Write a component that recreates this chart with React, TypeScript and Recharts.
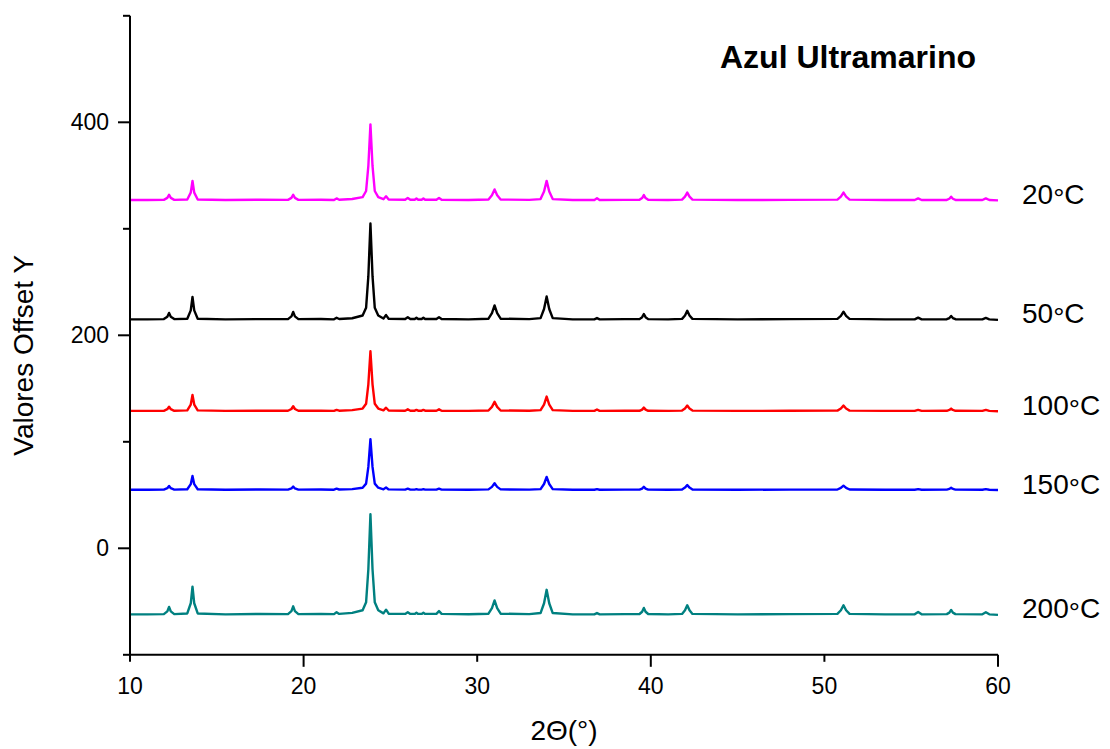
import React from "react";
import {
  LineChart,
  Line,
  XAxis,
  YAxis,
  ReferenceDot,
  Label,
} from "recharts";

// 2θ positions (degrees) shared by all diffractograms
const twoTheta = [
  10.0, 11.0,
  11.95, 12.15, 12.25, 12.35, 12.55,
  13.3, 13.5, 13.6, 13.7, 13.9,
  15.5, 17.5,
  19.1, 19.3, 19.4, 19.5, 19.7,
  21.0, 21.75, 21.9, 22.05, 22.8,
  23.4, 23.6, 23.73, 23.85, 23.97, 24.1, 24.3,
  24.6, 24.75, 24.9, 25.85, 26.0, 26.15,
  26.4, 26.5, 26.6, 26.8, 26.9, 27.0,
  27.65, 27.8, 27.95, 29.5,
  30.65, 30.85, 31.0, 31.15, 31.35, 33.0,
  33.65, 33.85, 34.0, 34.15, 34.35, 35.5,
  36.75, 36.9, 37.05, 38.5,
  39.35, 39.5, 39.6, 39.7, 39.85, 41.0,
  41.8, 41.97, 42.1, 42.23, 42.4, 45.0, 48.0,
  50.75, 50.95, 51.1, 51.25, 51.45, 53.5,
  55.2, 55.4, 55.6,
  57.05, 57.2, 57.3, 57.4, 57.55,
  59.1, 59.3, 59.5, 60.0,
];

// Intensity above each pattern's own baseline
const int20 = [
  0, 0,
  0.2, 2, 5, 2, 0.2,
  0.5, 7, 18, 7, 0.5,
  0, 0.3,
  0.2, 2, 5, 2, 0.2,
  0.3, 0, 1.5, 0.3, 1,
  2.8, 8.5, 32, 71, 32, 8.5, 2.8,
  0.8, 3.5, 0.5, 0.3, 2, 0.3,
  0.3, 1.5, 0.3, 0.3, 1.5, 0.3,
  0.3, 2, 0.3, 0,
  0.5, 4.5, 10, 4.5, 0.5, 0.2,
  0.9, 8, 18, 8, 0.9, 0,
  0, 1.6, 0, 0.2,
  0.2, 1.9, 4.7, 1.9, 0.2, 0,
  0.4, 3.2, 7, 3.2, 0.4, 0, 0.2,
  0.4, 3.2, 7, 3.2, 0.4, 0,
  0, 1.6, 0,
  0.1, 1.2, 3.1, 1.2, 0.1,
  0, 1.6, 0, -0.3,
];

const int50 = [
  0, 0,
  0.2, 2.4, 6, 2.4, 0.2,
  0.6, 8.4, 21, 8.4, 0.6,
  0, 0.2,
  0.2, 2.8, 7, 2.8, 0.2,
  0.3, 0, 1.5, 0.3, 1,
  3.6, 10.8, 40.5, 90, 40.5, 10.8, 3.6,
  0.8, 4, 0.5, 0.3, 2, 0.3,
  0.3, 1.5, 0.3, 0.3, 1.5, 0.3,
  0.3, 2, 0.3, 0,
  0.6, 5.8, 13, 5.8, 0.6, 0.2,
  1.1, 9.7, 21.5, 9.7, 1.1, 0,
  0, 1.3, 0, 0.2,
  0.2, 2, 5, 2, 0.2, 0,
  0.4, 3.6, 8, 3.6, 0.4, 0, 0.2,
  0.4, 3.2, 7.2, 3.2, 0.4, 0,
  0, 1.6, 0,
  0.1, 1.2, 3.1, 1.2, 0.1,
  0, 1.3, 0, -0.5,
];

const int100 = [
  0, 0,
  0.1, 1.6, 4, 1.6, 0.1,
  0.5, 6, 15, 6, 0.5,
  0, 0.2,
  0.1, 1.8, 4.4, 1.8, 0.1,
  0.2, 0, 1, 0.2, 0.7,
  2.2, 6.7, 25, 56, 25, 6.7, 2.2,
  0.6, 3, 0.4, 0.2, 1.5, 0.2,
  0.2, 1, 0.2, 0.2, 1, 0.2,
  0.2, 1.5, 0.2, 0,
  0.4, 3.8, 8.5, 3.8, 0.4, 0.1,
  0.7, 6, 13.5, 6, 0.7, 0,
  0, 1.3, 0, 0.1,
  0.1, 1.2, 3.1, 1.2, 0.1, 0,
  0.3, 2.2, 5, 2.2, 0.3, 0, 0.1,
  0.3, 2.2, 5, 2.2, 0.3, 0,
  0, 1, 0,
  0.1, 0.9, 2.2, 0.9, 0.1,
  0, 1, 0, -0.3,
];

const int150 = [
  0, 0,
  0.1, 1.4, 3.5, 1.4, 0.1,
  0.4, 5.2, 13, 5.2, 0.4,
  0, 0.2,
  0.1, 1.2, 3, 1.2, 0.1,
  0.2, 0, 1, 0.2, 0.6,
  1.9, 5.7, 21.4, 47.5, 21.4, 5.7, 1.9,
  0.4, 2, 0.3, 0.1, 1, 0.1,
  0.1, 0.5, 0.1, 0.1, 0.5, 0.1,
  0.1, 1, 0.1, 0,
  0.3, 2.7, 6, 2.7, 0.3, 0.1,
  0.6, 5.4, 12, 5.4, 0.6, 0,
  0, 0.6, 0, 0.1,
  0.1, 1.1, 2.8, 1.1, 0.1, 0,
  0.2, 2, 4.4, 2, 0.2, 0, 0.1,
  0.2, 1.7, 3.8, 1.7, 0.2, 0,
  0, 0.6, 0,
  0.1, 0.8, 1.9, 0.8, 0.1,
  0, 0.6, 0, -0.2,
];

const int200 = [
  0, 0,
  0.2, 2.8, 7, 2.8, 0.2,
  0.8, 10.4, 26, 10.4, 0.8,
  0, 0.3,
  0.2, 3, 7.5, 3, 0.2,
  0.4, 0.2, 2, 0.4, 1.4,
  3.8, 11.3, 42.3, 94, 42.3, 11.3, 3.8,
  0.9, 4.4, 0.6, 0.4, 2, 0.4,
  0.4, 1.5, 0.4, 0.4, 1.5, 0.4,
  0.4, 3, 0.4, 0.1,
  0.6, 5.8, 13, 5.8, 0.6, 0.2,
  1.2, 10.4, 23, 10.4, 1.2, 0,
  0, 1.3, 0, 0.2,
  0.3, 2.4, 6, 2.4, 0.3, 0,
  0.4, 3.8, 8.5, 3.8, 0.4, 0, 0.2,
  0.4, 3.8, 8.5, 3.8, 0.4, 0,
  0, 2.2, 0,
  0.2, 1.6, 4.1, 1.6, 0.2,
  0, 1.9, 0, -0.5,
];

// Y offsets applied to each pattern
const offsets = [327, 215, 129, 55, -62];
const seriesTemps = ["20", "50", "100", "150", "200"];
const seriesColors = ["#FF00FF", "#000000", "#FF0000", "#0000FF", "#008080"];
const seriesKeys = ["s20", "s50", "s100", "s150", "s200"];
const intensities = [int20, int50, int100, int150, int200];

const xTicks = [10, 20, 30, 40, 50, 60];
const xMajor = [20, 40, 60];
const yTicks = [-100, 0, 100, 200, 300, 400, 500];
const yLabelled = [0, 200, 400];

const title = "Azul Ultramarino";
const xTitle = "2Θ(°)";
const yTitle = "Valores Offset Y";

const data = twoTheta.map((t, i) => {
  const row: Record<string, number> = { t };
  seriesKeys.forEach((k, s) => {
    row[k] = offsets[s] + intensities[s][i];
  });
  return row;
});

const FONT = "'Liberation Sans', Arial, sans-serif";

const YTick = (props: any) => {
  const { x, y, payload } = props;
  const labelled = yLabelled.includes(payload.value);
  return (
    <g>
      <line x1={x - (labelled ? 12 : 7)} x2={x} y1={y} y2={y} stroke="#000" strokeWidth={2} />
      {labelled && (
        <text x={x - 21} y={y + 8} textAnchor="end" fontSize={23} fontFamily={FONT} fill="#000">
          {payload.value}
        </text>
      )}
    </g>
  );
};

const XTick = (props: any) => {
  const { x, y, payload } = props;
  const major = xMajor.includes(payload.value);
  return (
    <g>
      <line x1={x} x2={x} y1={y} y2={y + (major ? 12 : 7)} stroke="#000" strokeWidth={2} />
      <text x={x} y={y + 39} textAnchor="middle" fontSize={23} fontFamily={FONT} fill="#000">
        {payload.value}
      </text>
    </g>
  );
};

const XTitle = (props: any) => {
  const { viewBox } = props;
  return (
    <text
      x={viewBox.x + viewBox.width / 2}
      y={viewBox.y + 85}
      textAnchor="middle"
      fontSize={28}
      fontFamily={FONT}
      fill="#000"
    >
      {xTitle}
    </text>
  );
};

const YTitle = (props: any) => {
  const { viewBox } = props;
  const bx = viewBox.x + 3;
  const cy = viewBox.y + viewBox.height / 2 + 20;
  return (
    <text
      x={bx}
      y={cy}
      transform={`rotate(-90, ${bx}, ${cy})`}
      textAnchor="middle"
      fontSize={28}
      fontFamily={FONT}
      fill="#000"
    >
      {yTitle}
    </text>
  );
};

const makeEndLabel = (temp: string) => (props: any) => {
  const { viewBox } = props;
  const cx = viewBox.x + viewBox.width / 2;
  const cy = viewBox.y + viewBox.height / 2;
  return (
    <text x={cx + 24} y={cy + 4} textAnchor="start" fontSize={28} fontFamily={FONT} fill="#000">
      {temp}
      <tspan dy={4}>°</tspan>
      <tspan dy={-4}>C</tspan>
    </text>
  );
};

export default function App() {
  return (
    <div style={{ position: "absolute", left: 0, top: 0, width: 1110, height: 749, background: "#fff" }}>
      <LineChart
        width={1110}
        height={749}
        data={data}
        margin={{ top: 15.8, right: 112, bottom: 34, left: 30 }}
      >
        <XAxis
          dataKey="t"
          type="number"
          domain={[10, 60]}
          ticks={xTicks}
          interval={0}
          height={60.2}
          tickSize={0}
          tickMargin={0}
          tickLine={false}
          axisLine={{ stroke: "#000", strokeWidth: 2 }}
          tick={<XTick />}
        >
          <Label content={<XTitle />} />
        </XAxis>
        <YAxis
          type="number"
          domain={[-100, 500]}
          ticks={yTicks}
          interval={0}
          width={100}
          tickSize={0}
          tickMargin={0}
          tickLine={false}
          axisLine={{ stroke: "#000", strokeWidth: 2 }}
          tick={<YTick />}
        >
          <Label content={<YTitle />} />
        </YAxis>
        {seriesKeys.map((k, s) => (
          <Line
            key={k}
            dataKey={k}
            type="linear"
            stroke={seriesColors[s]}
            strokeWidth={2.4}
            strokeLinejoin="round"
            dot={false}
            activeDot={false}
            isAnimationActive={false}
          />
        ))}
        {seriesKeys.map((k, s) => (
          <ReferenceDot
            key={`lab-${k}`}
            x={60}
            y={offsets[s]}
            r={1}
            fill="none"
            stroke="none"
            ifOverflow="visible"
            label={makeEndLabel(seriesTemps[s])}
          />
        ))}
      </LineChart>
      <svg
        width={1110}
        height={749}
        style={{ position: "absolute", left: 0, top: 0, pointerEvents: "none" }}
      >
        <text x={848} y={68} textAnchor="middle" fontSize={32} fontWeight="bold" fontFamily={FONT} fill="#000">
          {title}
        </text>
      </svg>
    </div>
  );
}
